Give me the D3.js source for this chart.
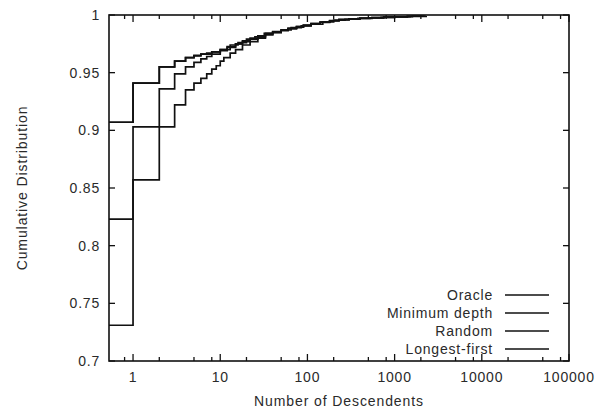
<!DOCTYPE html>
<html>
<head>
<meta charset="utf-8">
<script src="https://cdn.jsdelivr.net/npm/d3@7"></script>
<style>
  body { margin: 0; background: #fff; }
  text { font-family: "Liberation Sans", Arial, sans-serif; fill: #2a2a2a; }
</style>
</head>
<body>
<div id="chart"></div>
<script>
// data: number of descendents (0 = left edge) and cumulative fraction
var oracleN = [0, 1, 2, 3, 4, 5, 6, 7, 8, 10, 12, 15, 18, 22, 27, 33, 40, 50, 60, 75, 90, 110, 140, 180, 230, 300, 400, 550, 750, 1000, 1400, 2300];
var oracleP = [0.907, 0.941, 0.955, 0.960, 0.963, 0.9645, 0.966, 0.967, 0.968, 0.970, 0.9725, 0.975, 0.977, 0.979, 0.981, 0.983, 0.985, 0.9865, 0.988, 0.9895, 0.991, 0.992, 0.9935, 0.9952, 0.996, 0.9966, 0.9971, 0.9975, 0.998, 0.9984, 0.9988, 0.9992];

var minDepthN = [0, 1, 2, 3, 4, 5, 6, 7, 8, 10, 12, 15, 18, 22, 27, 33, 40, 50, 60, 75, 90, 110, 140, 180, 230, 300, 400, 550, 750, 1000, 1400, 2000];
var minDepthP = [0.823, 0.903, 0.936, 0.949, 0.955, 0.959, 0.962, 0.964, 0.966, 0.969, 0.972, 0.975, 0.9775, 0.980, 0.982, 0.984, 0.9855, 0.987, 0.9885, 0.990, 0.991, 0.9925, 0.9938, 0.995, 0.996, 0.9966, 0.9972, 0.9977, 0.9981, 0.9985, 0.9989, 0.9992];

var randomN = [0, 1, 2, 3, 4, 5, 6, 7, 8, 9, 10, 11, 13, 15, 18, 22, 27, 33, 40, 50, 60, 75, 90, 110, 140, 180, 230, 300, 400, 550, 750, 1000, 1500];
var randomP = [0.731, 0.857, 0.903, 0.922, 0.935, 0.941, 0.945, 0.949, 0.953, 0.956, 0.960, 0.963, 0.967, 0.970, 0.974, 0.977, 0.980, 0.983, 0.985, 0.987, 0.9885, 0.990, 0.991, 0.9925, 0.9938, 0.995, 0.996, 0.9966, 0.9972, 0.9977, 0.9981, 0.9985, 0.999];

var longestN = [0, 1, 2, 3, 4, 5, 6, 8, 10, 13, 16, 20, 25, 32, 40, 50, 65, 85, 110, 150, 200, 270, 380, 520, 700, 1000, 1600, 2200];
var longestP = [0.907, 0.941, 0.955, 0.960, 0.963, 0.965, 0.966, 0.968, 0.970, 0.974, 0.976, 0.979, 0.981, 0.984, 0.985, 0.987, 0.989, 0.9905, 0.992, 0.994, 0.9955, 0.9963, 0.997, 0.9976, 0.998, 0.9985, 0.999, 0.9993];

var seriesNames = ["Oracle", "Minimum depth", "Random", "Longest-first"];
var xTickValues = [1, 10, 100, 1000, 10000, 100000];
var yTickValues = [0.7, 0.75, 0.8, 0.85, 0.9, 0.95, 1];

var width = 599,
    height = 411,
    plotLeft = 109, plotRight = 569, plotTop = 15, plotBottom = 361;

var svg = d3.select("#chart").append("svg")
  .attr("width", width)
  .attr("height", height);

var x = d3.scaleLog().domain([0.53, 100000]).range([plotLeft, plotRight]);
var y = d3.scaleLinear().domain([0.7, 1]).range([plotBottom, plotTop]);

// minor ticks at 2, 5, 8 in each decade
var minorTicks = [];
xTickValues.forEach(function(d) {
  [2, 5, 8].forEach(function(m) {
    if (d * m < 100000) minorTicks.push(d * m);
  });
});
minorTicks.push(0.8);

var tickG = svg.append("g").attr("stroke", "#111").attr("stroke-width", 1.3);

xTickValues.concat(minorTicks).forEach(function(d) {
  var len = xTickValues.indexOf(d) >= 0 ? 7 : 4;
  tickG.append("line").attr("x1", x(d)).attr("x2", x(d)).attr("y1", plotBottom).attr("y2", plotBottom - len);
  tickG.append("line").attr("x1", x(d)).attr("x2", x(d)).attr("y1", plotTop).attr("y2", plotTop + len);
});
yTickValues.forEach(function(d) {
  tickG.append("line").attr("x1", plotLeft).attr("x2", plotLeft + 6).attr("y1", y(d)).attr("y2", y(d));
  tickG.append("line").attr("x1", plotRight).attr("x2", plotRight - 6).attr("y1", y(d)).attr("y2", y(d));
});

// tick labels
svg.append("g").selectAll("text")
  .data(xTickValues)
  .enter().append("text")
  .attr("x", function(d) { return x(d); })
  .attr("y", 382)
  .attr("text-anchor", "middle")
  .style("font-size", "14px")
  .style("letter-spacing", "0.8px")
  .text(function(d) { return d; });

svg.append("g").selectAll("text")
  .data(yTickValues)
  .enter().append("text")
  .attr("x", 100)
  .attr("y", function(d) { return y(d) + 5; })
  .attr("text-anchor", "end")
  .style("font-size", "14px")
  .style("letter-spacing", "0.8px")
  .text(function(d) { return d; });

// axis titles
svg.append("text")
  .attr("x", 339).attr("y", 406)
  .attr("text-anchor", "middle")
  .style("font-size", "14px")
  .style("letter-spacing", "0.9px")
  .text("Number of Descendents");

svg.append("text")
  .attr("transform", "translate(27,188) rotate(-90)")
  .attr("text-anchor", "middle")
  .style("font-size", "14px")
  .style("letter-spacing", "0.9px")
  .text("Cumulative Distribution");

// series
function toPoints(ns, ps) {
  return ns.map(function(n, i) { return [n === 0 ? x.domain()[0] : n, ps[i]]; });
}
var series = [
  toPoints(oracleN, oracleP),
  toPoints(minDepthN, minDepthP),
  toPoints(randomN, randomP),
  toPoints(longestN, longestP)
];

var line = d3.line()
  .x(function(d) { return x(d[0]); })
  .y(function(d) { return y(d[1]); })
  .curve(d3.curveStepAfter);

svg.append("g").selectAll("path")
  .data(series)
  .enter().append("path")
  .attr("d", line)
  .attr("fill", "none")
  .attr("stroke", "#111")
  .attr("stroke-width", 1.7);

// frame
svg.append("rect")
  .attr("x", plotLeft).attr("y", plotTop)
  .attr("width", plotRight - plotLeft).attr("height", plotBottom - plotTop)
  .attr("fill", "none")
  .attr("stroke", "#111")
  .attr("stroke-width", 1.6);

// legend
var legend = svg.append("g").selectAll("g")
  .data(seriesNames)
  .enter().append("g")
  .attr("transform", function(d, i) { return "translate(0," + (295 + i * 18) + ")"; });

legend.append("text")
  .attr("x", 493).attr("y", 5)
  .attr("text-anchor", "end")
  .style("font-size", "14px")
  .style("letter-spacing", "0.8px")
  .text(function(d) { return d; });

legend.append("line")
  .attr("x1", 505).attr("x2", 549)
  .attr("y1", 0).attr("y2", 0)
  .attr("stroke", "#111")
  .attr("stroke-width", 1.7);
</script>
</body>
</html>
